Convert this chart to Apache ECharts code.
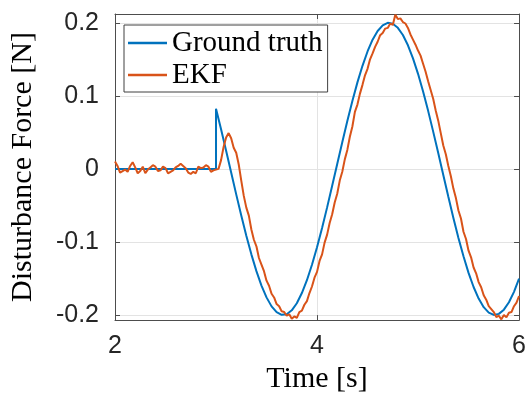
<!DOCTYPE html>
<html>
<head>
<meta charset="utf-8">
<script src="https://cdn.jsdelivr.net/npm/echarts@6/dist/echarts.min.js"></script>
<style>
  html, body { margin: 0; padding: 0; background: #fff; }
  #chart { width: 529px; height: 399px; }
</style>
</head>
<body>
<div id="chart"></div>
<script>
// --- Data ---
// Ground truth: zero until the step at t = 3 s, then a sinusoid
const gtTime = [
  2, 3, 3, 3.05, 3.1, 3.15, 3.2, 3.25, 3.3, 3.35, 3.4, 3.45, 3.5, 3.55, 3.6, 3.65,
  3.7, 3.75, 3.8, 3.85, 3.9, 3.95, 4, 4.05, 4.1, 4.15, 4.2, 4.25, 4.3, 4.35, 4.4,
  4.45, 4.5, 4.55, 4.6, 4.65, 4.7, 4.75, 4.8, 4.85, 4.9, 4.95, 5, 5.05, 5.1, 5.15,
  5.2, 5.25, 5.3, 5.35, 5.4, 5.45, 5.5, 5.55, 5.6, 5.65, 5.7, 5.75, 5.8, 5.85,
  5.9, 5.95, 6
];
const gtForce = [
  0, 0, 0.0824, 0.0543, 0.0249, -0.0050, -0.0349, -0.0639, -0.0915, -0.1170,
  -0.1400, -0.1598, -0.1759, -0.1882, -0.1962, -0.1998, -0.1989, -0.1936,
  -0.1839, -0.1700, -0.1524, -0.1313, -0.1073, -0.0809, -0.0527, -0.0232,
  0.0067, 0.0365, 0.0655, 0.0930, 0.1184, 0.1411, 0.1607, 0.1768, 0.1887,
  0.1965, 0.1999, 0.1987, 0.1931, 0.1832, 0.1692, 0.1513, 0.1301, 0.1059,
  0.0794, 0.0510, 0.0216, -0.0084, -0.0382, -0.0671, -0.0945, -0.1197, -0.1424,
  -0.1617, -0.1775, -0.1893, -0.1968, -0.1999, -0.1985, -0.1927, -0.1825,
  -0.1683, -0.1502
];

// EKF estimate, sampled every 0.025 s from t = 2 s
const ekfStart = 2;
const ekfStep = 0.025;
const ekfForce = [
  0.010, 0.004, -0.005, -0.003, -0.001, -0.004, 0.004, 0.009, 0.002, -0.006,
  -0.003, 0.003, -0.006, -0.001, 0.002, 0.005, 0.003, -0.003, -0.002, 0.003,
  0.001, -0.006, -0.004, -0.002, 0.002, 0.004, 0.007, 0.004, 0.001, -0.005,
  -0.007, -0.004, -0.006, 0.003, 0.001, 0.002, 0.005, 0.003, -0.004, -0.002,
  -0.001,
  0.000, 0.012, 0.030, 0.043, 0.049, 0.042, 0.029, 0.022, 0.006, -0.016, -0.037,
  -0.053, -0.064, -0.083, -0.097, -0.106, -0.122, -0.131, -0.140, -0.153, -0.160,
  -0.171, -0.176, -0.185, -0.188, -0.195, -0.196, -0.201, -0.199, -0.205, -0.202,
  -0.204, -0.196, -0.194, -0.186, -0.181, -0.170, -0.161, -0.149, -0.141, -0.126,
  -0.117, -0.101, -0.090, -0.074, -0.062, -0.046, -0.034, -0.016, -0.004, 0.013,
  0.026, 0.044, 0.058, 0.078, 0.088, 0.103, 0.115, 0.128, 0.137, 0.150,
  0.158, 0.167, 0.174, 0.183, 0.186, 0.192, 0.193, 0.199, 0.197, 0.211,
  0.205, 0.206, 0.201, 0.199, 0.193, 0.184, 0.177, 0.170, 0.162, 0.155,
  0.144, 0.133, 0.120, 0.108, 0.096, 0.080, 0.066, 0.049, 0.032, 0.020,
  0.004, -0.010, -0.027, -0.040, -0.057, -0.068, -0.086, -0.096, -0.112, -0.121,
  -0.135, -0.143, -0.155, -0.162, -0.173, -0.179, -0.188, -0.192, -0.196, -0.203,
  -0.201, -0.206, -0.200, -0.203, -0.197, -0.196, -0.188, -0.183, -0.174
];

const xTicks = [2, 4, 6];
const yRange = [-0.207, 0.212];

// --- Styles ---
const AXIS_COLOR = '#4d4d4d';
const GRID_COLOR = '#e3e3e3';
const TICK_FONT = { color: '#262626', fontSize: 25, fontFamily: 'Liberation Sans' };
const SERIF = 'Liberation Serif';

const chart = echarts.init(document.getElementById('chart'), null, { renderer: 'canvas' });

const gtData = gtTime.map((t, i) => [t, gtForce[i]]);
const ekfData = ekfForce.map((v, i) => [+(ekfStart + i * ekfStep).toFixed(3), v]);

const boxAxis = {
  axisLine: { show: true, onZero: false, lineStyle: { color: AXIS_COLOR, width: 1 } },
  axisTick: { show: true, inside: true, length: 5, lineStyle: { color: AXIS_COLOR } },
  axisLabel: { show: false },
  splitLine: { show: false }
};

const option = {
  animation: false,
  grid: { left: 114, right: 6, top: 14, bottom: 77 },
  legend: {
    left: 124,
    top: 25,
    orient: 'vertical',
    icon: 'rect',
    itemWidth: 39,
    itemHeight: 2.5,
    itemGap: 2,
    padding: [3, 5, 2, 4],
    borderColor: '#404040',
    borderWidth: 1,
    backgroundColor: '#fff',
    textStyle: { color: '#000', fontSize: 29, fontFamily: SERIF, lineHeight: 30 },
    data: ['Ground truth', 'EKF']
  },
  xAxis: [
    {
      type: 'value',
      min: xTicks[0],
      max: xTicks[xTicks.length - 1],
      interval: 2,
      name: 'Time [s]',
      nameLocation: 'middle',
      nameGap: 41,
      nameTextStyle: { color: '#000', fontSize: 30, fontFamily: SERIF },
      axisLine: { onZero: false, lineStyle: { color: AXIS_COLOR, width: 1 } },
      axisTick: { inside: true, length: 5, lineStyle: { color: AXIS_COLOR } },
      axisLabel: { ...TICK_FONT, margin: 14 },
      splitLine: { show: true, lineStyle: { color: GRID_COLOR, width: 1 } }
    },
    {
      type: 'value', position: 'top',
      min: xTicks[0], max: xTicks[xTicks.length - 1], interval: 2,
      ...boxAxis
    }
  ],
  yAxis: [
    {
      type: 'value',
      min: yRange[0],
      max: yRange[1],
      name: 'Disturbance Force [N]',
      nameLocation: 'middle',
      nameGap: 77,
      nameTextStyle: { color: '#000', fontSize: 30, fontFamily: SERIF },
      axisLine: { show: true, onZero: false, lineStyle: { color: AXIS_COLOR, width: 1 } },
      axisTick: { show: true, inside: true, length: 5, lineStyle: { color: AXIS_COLOR } },
      axisLabel: { ...TICK_FONT, margin: 16, showMinLabel: false, showMaxLabel: false },
      splitLine: { show: true, lineStyle: { color: GRID_COLOR, width: 1 } }
    },
    {
      type: 'value', position: 'right',
      min: yRange[0], max: yRange[1],
      ...boxAxis
    }
  ],
  series: [
    {
      name: 'Ground truth',
      type: 'line',
      data: gtData,
      symbol: 'none',
      lineStyle: { color: '#0072BD', width: 2 },
      itemStyle: { color: '#0072BD' }
    },
    {
      name: 'EKF',
      type: 'line',
      data: ekfData,
      symbol: 'none',
      lineStyle: { color: '#D95319', width: 2 },
      itemStyle: { color: '#D95319' }
    }
  ]
};

chart.setOption(option);
</script>
</body>
</html>
